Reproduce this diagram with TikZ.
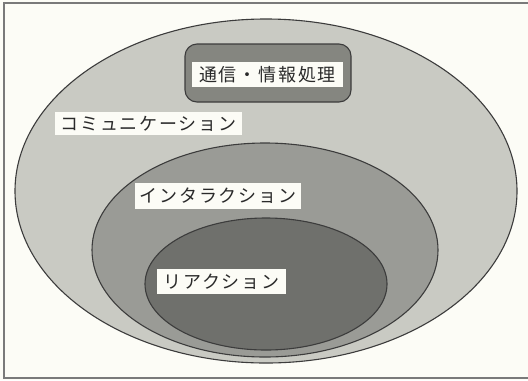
\documentclass[tikz,border=0pt]{standalone}
\usepackage{fontspec}
\usetikzlibrary{shapes.geometric}
\newfontfamily\jp[LetterSpace=10]{Noto Sans CJK JP}
\definecolor{bgc}{HTML}{FCFCF6}
\definecolor{outerc}{HTML}{C9CAC3}
\definecolor{midc}{HTML}{9A9B96}
\definecolor{innerc}{HTML}{6F706C}
\definecolor{boxc}{HTML}{858680}
\definecolor{linec}{HTML}{3C3C3C}
\definecolor{framec}{HTML}{7A7A7A}
\definecolor{txtc}{HTML}{2A2A2A}
\begin{document}
\begin{tikzpicture}[x=1bp,y=-1bp,
  region/.style={draw=linec,line width=1.1bp,inner sep=0pt},
  oval/.style={region,shape=ellipse},
  labelbox/.style={fill=bgc,inner sep=0pt,text=txtc,font=\jp\fontsize{18bp}{20bp}\selectfont,anchor=center}]
\useasboundingbox[fill=bgc] (0,0) rectangle (528,380);
\draw[framec,line width=1.6bp] (532,3) -- (4,3) -- (4,378) -- (532,378);
\node[oval,fill=outerc,minimum width=502bp,minimum height=344bp] (comm) at (266,191) {};
\node[oval,fill=midc,minimum width=346bp,minimum height=214bp] (inter) at (265,250) {};
\node[oval,fill=innerc,minimum width=242bp,minimum height=132bp] (react) at (266,284) {};
\node[region,fill=boxc,rounded corners=12bp,minimum width=166bp,minimum height=58bp] (info) at (268,73) {};
\node[labelbox,minimum width=151bp,minimum height=25bp] (infolbl) at (267.5,74.5) {通信・情報処理};
\node[labelbox,minimum width=187bp,minimum height=23bp] (commlbl) at (148.5,123.5) {コミュニケーション};
\node[labelbox,minimum width=166bp,minimum height=26bp] (interlbl) at (218,196) {インタラクション};
\node[labelbox,minimum width=129bp,minimum height=25bp] (reactlbl) at (221.5,281.5) {リアクション};
\end{tikzpicture}
\end{document}
